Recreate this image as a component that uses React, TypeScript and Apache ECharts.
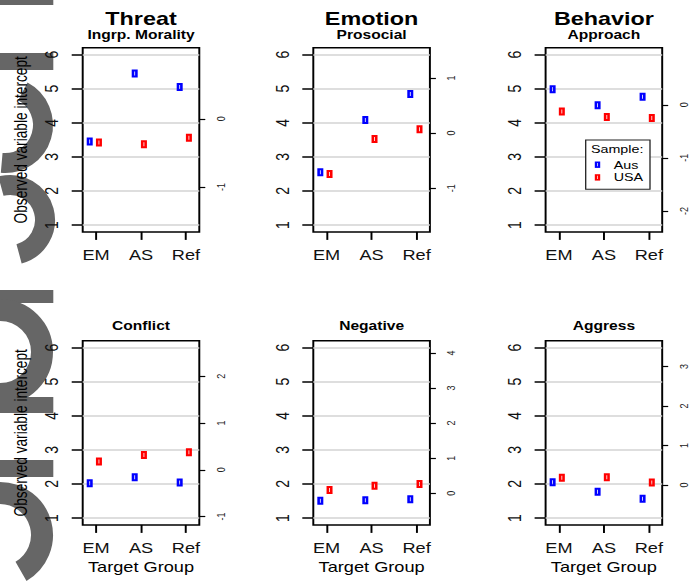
import React, { useEffect, useRef } from 'react';
import * as echarts from 'echarts';

// ---------------- data ----------------
const categories = ['EM', 'AS', 'Ref'];
const categoryPositions = [1, 2, 3];
const panelTitles = ['Threat', 'Emotion', 'Behavior', '', '', ''];
const panelSubtitles = ['Ingrp. Morality', 'Prosocial', 'Approach', 'Conflict', 'Negative', 'Aggress'];
const sampleNames = ['Aus', 'USA'];
const ausValues = [
  [3.45, 5.44, 5.05],
  [2.55, 4.08, 4.84],
  [4.98, 4.51, 4.76],
  [2.02, 2.2, 2.04],
  [1.51, 1.52, 1.55],
  [2.05, 1.77, 1.57],
];
const usaValues = [
  [3.42, 3.37, 3.56],
  [2.5, 3.52, 3.81],
  [4.33, 4.17, 4.14],
  [2.66, 2.85, 2.93],
  [1.82, 1.95, 2.0],
  [2.18, 2.2, 2.04],
];
const leftTicks = [1, 2, 3, 4, 5, 6];
const rightTicks = [
  [0, -1],
  [1, 0, -1],
  [0, -1, -2],
  [2, 1, 0, -1],
  [4, 3, 2, 1, 0],
  [3, 2, 1, 0],
];
// left-axis value that corresponds to 0 on the right axis, and left units per right unit
const rightZero = [4.116, 3.696, 4.527, 2.414, 1.73, 1.973];
const rightUnit = [1.996, 1.614, 1.556, 1.37, 1.027, 1.157];
const yAxisTitle = 'Observed variable intercept';
const xAxisTitle = 'Target Group';
const legendTitle = 'Sample:';

// ---------------- layout ----------------
const W = 532;
const H = 584;
const S = 691 / W; // horizontal stretch of the original picture
const ix = (x: number) => x / S;

const COL_LEFT = [82.7, 313.3, 545.6];
const ROW_TOP = [47.7, 340.7];
const BOX_W = 116.6;
const BOX_H = 184.2;
const X_MIN = 0.704;
const X_MAX = 3.296;
const Y_MIN = 0.8;
const Y_MAX = 6.2;
const OFFSETS = [-0.14, 0.065];
const COLORS = ['#0000ff', '#ff0000'];
const FONT = '"Liberation Sans", Arial, Helvetica, sans-serif';
const MARKER = 'path://M0 0H6V8H0Z M2.6 2V6H3.4V2Z';
const GRAY = '#666666';

function txt(text: string, x: number, y: number, size: number, weight: string, extra: any = {}) {
  return {
    type: 'text',
    x,
    y,
    z: 10,
    silent: true,
    ...extra,
    style: {
      text,
      fontSize: size,
      fontWeight: weight,
      fontFamily: FONT,
      fill: '#000',
      align: 'center',
      textAlign: 'center',
      verticalAlign: 'middle',
      textVerticalAlign: 'middle',
    },
  };
}

function buildOption() {
  const grid: any[] = [];
  const xAxis: any[] = [];
  const yAxis: any[] = [];
  const series: any[] = [];
  const graphic: any[] = [];

  for (let i = 0; i < 6; i++) {
    const col = i % 3;
    const row = Math.floor(i / 3);
    grid.push({
      left: ix(COL_LEFT[col]),
      top: ROW_TOP[row],
      width: ix(BOX_W),
      height: BOX_H,
      show: true,
      borderColor: '#000',
      borderWidth: 1.5,
      backgroundColor: 'transparent',
      containLabel: false,
      outerBoundsMode: 'none',
    });
    xAxis.push({
      gridIndex: i,
      type: 'value',
      min: X_MIN,
      max: X_MAX,
      position: 'bottom',
      axisLine: { show: false, onZero: false },
      splitLine: { show: false },
      axisTick: {
        show: true,
        customValues: categoryPositions,
        length: 8,
        lineStyle: { color: '#000', width: 1.5 },
      },
      axisLabel: {
        customValues: categoryPositions,
        formatter: (v: number) => categories[Math.round(v) - 1] ?? '',
        fontSize: 14,
        fontFamily: FONT,
        color: '#111',
        margin: 16,
        hideOverlap: false,
      },
    });
    yAxis.push({
      gridIndex: i,
      type: 'value',
      min: Y_MIN,
      max: Y_MAX,
      position: 'left',
      axisLine: { show: false, onZero: false },
      splitLine: { show: false },
      axisTick: {
        show: true,
        customValues: leftTicks,
        length: ix(11),
        lineStyle: { color: '#000', width: 1.5 },
      },
      axisLabel: {
        customValues: leftTicks,
        rotate: 90,
        fontSize: 14,
        fontFamily: FONT,
        color: '#111',
        margin: 17,
        hideOverlap: false,
      },
    });
    yAxis.push({
      gridIndex: i,
      type: 'value',
      min: (Y_MIN - rightZero[i]) / rightUnit[i],
      max: (Y_MAX - rightZero[i]) / rightUnit[i],
      position: 'right',
      axisLine: { show: false, onZero: false },
      splitLine: { show: false },
      axisTick: {
        show: true,
        customValues: rightTicks[i],
        length: ix(6),
        lineStyle: { color: '#000', width: 1.2 },
      },
      axisLabel: {
        customValues: rightTicks[i],
        rotate: 90,
        fontSize: 9,
        fontFamily: FONT,
        color: '#222',
        margin: 12,
        hideOverlap: false,
      },
    });

    const groups = [ausValues[i], usaValues[i]];
    groups.forEach((vals, s) => {
      const ser: any = {
        type: 'scatter',
        name: sampleNames[s],
        xAxisIndex: i,
        yAxisIndex: 2 * i,
        data: vals.map((v, k) => [categoryPositions[k] + OFFSETS[s], v]),
        symbol: MARKER,
        symbolSize: [ix(6), 8],
        itemStyle: { color: COLORS[s], opacity: 1 },
        z: 3,
        silent: true,
      };
      if (s === 0) {
        ser.markLine = {
          silent: true,
          symbol: 'none',
          z: 1,
          label: { show: false },
          lineStyle: { color: '#d3d3d3', width: 1.5, type: 'solid' },
          emphasis: { disabled: true },
          data: leftTicks.map((t) => ({ yAxis: t })),
        };
      }
      series.push(ser);
    });

    const cx = ix(COL_LEFT[col] + BOX_W / 2);
    if (row === 0) {
      graphic.push(txt(panelTitles[i], cx, 19, 18, 'bold'));
      graphic.push(txt(panelSubtitles[i], cx, 34.6, 12, 'bold'));
    } else {
      graphic.push(txt(panelSubtitles[i], cx, 325.8, 12, 'bold'));
      graphic.push(txt(xAxisTitle, cx, 566.5, 14, 'normal'));
    }
    if (col === 0) {
      graphic.push(
        txt(yAxisTitle, ix(20.5), ROW_TOP[row] + BOX_H / 2, 13.7, 'normal', { rotation: Math.PI / 2 })
      );
    }
  }

  // legend (Behavior panel)
  const lgX0 = 585.7, lgX1 = 650, lgY0 = 140, lgY1 = 189.3;
  graphic.push({
    type: 'rect',
    z: 9,
    silent: true,
    shape: { x: ix(lgX0), y: lgY0, width: ix(lgX1 - lgX0), height: lgY1 - lgY0 },
    style: { fill: '#fff', stroke: '#222', lineWidth: 1 },
  });
  graphic.push(txt(legendTitle, ix(617.2), 149.3, 11, 'normal'));
  const lgRows = [164.7, 177.4];
  sampleNames.forEach((n, s) => {
    graphic.push({
      type: 'rect',
      z: 10,
      silent: true,
      shape: { x: ix(597.5 - 2.7), y: lgRows[s] - 3.2, width: ix(5.4), height: 6.4 },
      style: { fill: COLORS[s] },
    });
    graphic.push({
      type: 'rect',
      z: 11,
      silent: true,
      shape: { x: ix(597.5 - 0.5), y: lgRows[s] - 1.6, width: ix(1), height: 3.2 },
      style: { fill: '#fff', opacity: 0.7 },
    });
    graphic.push({
      type: 'text',
      x: ix(613.7),
      y: lgRows[s],
      z: 10,
      silent: true,
      style: {
        text: n,
        fontSize: 11,
        fontFamily: FONT,
        fill: '#000',
        align: 'left',
        textAlign: 'left',
        verticalAlign: 'middle',
        textVerticalAlign: 'middle',
      },
    });
  });

  // gray letter fragments on the left edge (drawn in original pixel space)
  const deg = (d: number) => (d * Math.PI) / 180;
  const grayRect = (y0: number, y1: number) => ({
    type: 'rect',
    z: -1,
    silent: true,
    shape: { x: -5, y: y0, width: 58.3, height: y1 - y0 },
    style: { fill: GRAY },
  });
  const grayArc = (cxp: number, cyp: number, r: number, lw: number, a0: number, a1: number) => ({
    type: 'arc',
    z: -1,
    silent: true,
    shape: { cx: cxp, cy: cyp, r, startAngle: deg(a0), endAngle: deg(a1), clockwise: true },
    style: { stroke: GRAY, lineWidth: lw, fill: null },
  });
  graphic.push({
    type: 'group',
    x: 0,
    y: 0,
    scaleX: 1 / S,
    z: -1,
    silent: true,
    children: [
      grayRect(-5, 5),
      grayRect(53, 70),
      grayArc(5, 125, 38, 20, -62, 95),
      grayArc(10, 220, 35, 20, -105, 75),
      grayRect(290, 303),
      grayArc(0, 352, 42, 22, -90, 90),
      grayRect(397, 413),
      grayRect(460, 477),
      grayArc(0, 535, 42, 22, -90, 60),
    ],
  });

  return {
    animation: false,
    backgroundColor: '#ffffff',
    grid,
    xAxis,
    yAxis,
    series,
    graphic,
  };
}

export default function App() {
  const ref = useRef<HTMLDivElement>(null);
  useEffect(() => {
    if (!ref.current) return;
    const chart = echarts.init(ref.current, undefined, { renderer: 'svg' });
    chart.setOption(buildOption() as any);
    return () => chart.dispose();
  }, []);
  return (
    <div style={{ position: 'absolute', left: 0, top: 0, width: 691, height: H, overflow: 'hidden', background: '#fff' }}>
      <div
        ref={ref}
        style={{ width: W, height: H, transform: `scaleX(${S})`, transformOrigin: '0 0' }}
      />
    </div>
  );
}
